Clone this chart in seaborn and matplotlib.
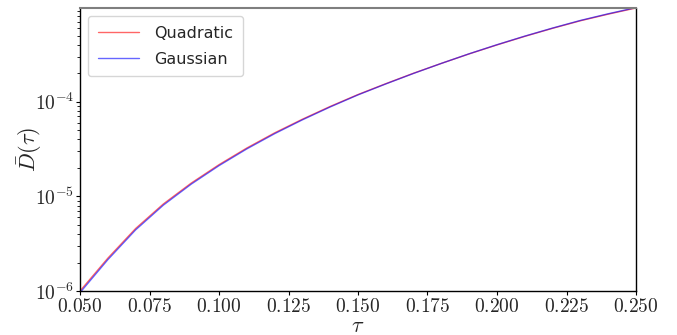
import numpy as np
import pandas as pd
import matplotlib
matplotlib.use("Agg")
import matplotlib.pyplot as plt
import seaborn as sns
from matplotlib.ticker import FixedLocator, FuncFormatter, LogLocator

tau = [0.05, 0.06, 0.07, 0.08, 0.09, 0.10, 0.11, 0.12, 0.13, 0.14, 0.15,
       0.16, 0.17, 0.18, 0.19, 0.20, 0.21, 0.22, 0.23, 0.24, 0.25]
quadratic = [1.00e-6, 2.22e-6, 4.57e-6, 8.32e-6, 1.38e-5, 2.16e-5, 3.24e-5, 4.68e-5,
             6.53e-5, 8.91e-5, 1.19e-4, 1.55e-4, 2.00e-4, 2.54e-4, 3.20e-4,
             3.98e-4, 4.90e-4, 5.96e-4, 7.16e-4, 8.41e-4, 9.77e-4]
gaussian = [0.96e-6, 2.14e-6, 4.42e-6, 8.08e-6, 1.345e-5, 2.11e-5, 3.17e-5, 4.59e-5,
            6.43e-5, 8.80e-5, 1.18e-4, 1.54e-4, 1.99e-4, 2.54e-4, 3.21e-4,
            4.00e-4, 4.93e-4, 6.00e-4, 7.22e-4, 8.49e-4, 9.87e-4]
xticks = [0.050, 0.075, 0.100, 0.125, 0.150, 0.175, 0.200, 0.225, 0.250]

sns.set_style("white")
plt.rcParams["mathtext.fontset"] = "cm"
plt.rcParams["font.family"] = ["DejaVu Sans"]

df = pd.DataFrame({
    "tau": tau + tau,
    "D": quadratic + gaussian,
    "kind": ["Quadratic"] * len(tau) + ["Gaussian"] * len(tau),
})

fig = plt.figure(figsize=(6.77, 3.35), dpi=100)
ax = fig.add_axes([80 / 677, 1 - 291 / 335, (636 - 80) / 677, (291 - 8) / 335])

sns.lineplot(data=df, x="tau", y="D", hue="kind",
             palette={"Quadratic": "red", "Gaussian": "blue"},
             hue_order=["Quadratic", "Gaussian"], ax=ax, lw=1.0, alpha=0.6,
             legend=True)
ax.set_yscale("log")
ax.set_xlim(0.05, 0.25)
ax.set_ylim(1e-6, max(quadratic))

ax.xaxis.set_major_locator(FixedLocator(xticks))
ax.xaxis.set_major_formatter(FuncFormatter(lambda v, p: r"$%.3f$" % v))
ax.yaxis.set_major_locator(LogLocator(base=10))
ax.yaxis.set_major_formatter(FuncFormatter(lambda v, p: r"$10^{%d}$" % round(np.log10(v))))
ax.yaxis.set_minor_locator(LogLocator(base=10, subs=np.arange(2, 10)))
ax.tick_params(axis="both", which="major", labelsize=14, length=3, width=0.8,
               direction="out", left=True, bottom=True, color="black", pad=1)
ax.tick_params(axis="y", which="minor", length=2, width=0.6, left=True, color="black")

for s in ["left", "right", "bottom"]:
    ax.spines[s].set_color("black")
    ax.spines[s].set_linewidth(1.0)
ax.spines["top"].set_color("#7f7f7f")
ax.spines["top"].set_linewidth(1.5)

ax.set_xlabel(r"$\tau$", fontsize=16, labelpad=0)
ax.set_ylabel(r"$\bar{D}(\tau)$", fontsize=16)
ax.yaxis.set_label_coords(-0.065, 0.5)

leg = ax.legend(loc="upper left", fontsize=11.5, frameon=True, handlelength=2.6,
                borderpad=0.6, labelspacing=0.7, handletextpad=0.95)
leg.get_frame().set_edgecolor("#cccccc")
for h in leg.get_lines():
    h.set_linewidth(1.0)

fig.savefig("out.png", dpi=100)
